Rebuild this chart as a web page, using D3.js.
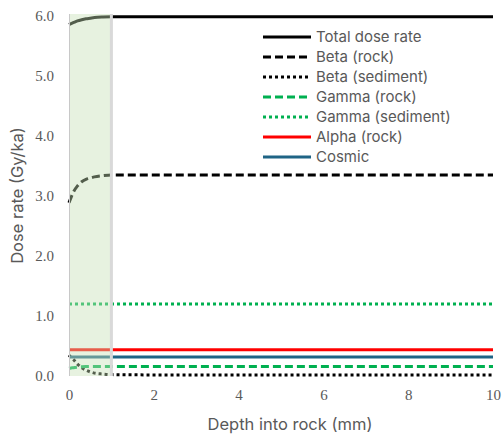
<!DOCTYPE html>
<html><head><meta charset="utf-8">
<script src="https://cdn.jsdelivr.net/npm/d3@7"></script>
<style>body{margin:0;background:#fff}svg{display:block}</style>
</head><body>
<svg id="c" width="502" height="440"></svg>
<script>
const depth     = [0, 0.05, 0.1, 0.2, 0.3, 0.4, 0.5, 0.6, 0.8, 1.0, 2, 4, 6, 8, 10];
const total     = [5.85, 5.865, 5.88, 5.91, 5.93, 5.945, 5.955, 5.965, 5.975, 5.98, 5.98, 5.98, 5.98, 5.98, 5.98];
const betaRock  = [2.88, 2.97, 3.05, 3.16, 3.23, 3.27, 3.29, 3.31, 3.33, 3.34, 3.34, 3.34, 3.34, 3.34, 3.34];
const betaSed   = [0.34, 0.30, 0.27, 0.19, 0.13, 0.09, 0.06, 0.04, 0.025, 0.015, 0.01, 0.01, 0.01, 0.01, 0.01];
const gammaRock = [0.12, 0.125, 0.13, 0.14, 0.145, 0.148, 0.15, 0.15, 0.15, 0.15, 0.15, 0.15, 0.15, 0.15, 0.15];
const gammaSed  = [1.19, 1.19, 1.19, 1.19, 1.19, 1.19, 1.19, 1.19, 1.19, 1.19, 1.19, 1.19, 1.19, 1.19, 1.19];
const alpha     = [0.43, 0.43, 0.43, 0.43, 0.43, 0.43, 0.43, 0.43, 0.43, 0.43, 0.43, 0.43, 0.43, 0.43, 0.43];
const cosmic    = [0.31, 0.31, 0.31, 0.31, 0.31, 0.31, 0.31, 0.31, 0.31, 0.31, 0.31, 0.31, 0.31, 0.31, 0.31];
const seriesNames = ["Total dose rate", "Beta (rock)", "Beta (sediment)", "Gamma (rock)", "Gamma (sediment)", "Alpha (rock)", "Cosmic"];
const xTicks = [0, 2, 4, 6, 8, 10];
const yTicks = [0, 1, 2, 3, 4, 5, 6];
const shadeRange = [0, 1];

const seriesValues = [total, betaRock, betaSed, gammaRock, gammaSed, alpha, cosmic];
const colors = ["#000000", "#000000", "#000000", "#00b050", "#00b050", "#ff0000", "#1f6485"];
const dashes = [null, "8,4", "3,3", "8,4", "3,3", null, null];

const svg = d3.select("#c");
const x = d3.scaleLinear().domain([0, 10]).range([69, 493]);
const y = d3.scaleLinear().domain([0, 6]).range([375.5, 15.5]);

const serif = "'Liberation Serif', 'Times New Roman', Times, serif";
const sans = "Inter, 'Liberation Sans', Arial, sans-serif";
const grey = "#595959";

// lines
const line = d3.line().x((d, i) => x(depth[i])).y(d => y(d)).curve(d3.curveMonotoneX);
seriesValues.forEach((vals, k) => {
  svg.append("path").datum(vals)
    .attr("d", line)
    .attr("fill", "none")
    .attr("stroke", colors[k])
    .attr("stroke-width", 3)
    .attr("stroke-dasharray", dashes[k]);
});

// shaded region
svg.append("rect")
  .attr("x", x(shadeRange[0])).attr("y", y(6) - 1.5)
  .attr("width", x(shadeRange[1]) - x(shadeRange[0]))
  .attr("height", y(0) - y(6) + 2)
  .attr("fill", "#c5e0b4").attr("fill-opacity", 0.42);
svg.append("line")
  .attr("x1", x(shadeRange[0]) + 0.5).attr("x2", x(shadeRange[0]) + 0.5)
  .attr("y1", y(6) - 1.5).attr("y2", y(0) + 0.5)
  .attr("stroke", "#c8c8c8").attr("stroke-width", 1);
svg.append("line")
  .attr("x1", x(shadeRange[1])).attr("x2", x(shadeRange[1]))
  .attr("y1", y(6) - 1.5).attr("y2", y(0) + 0.5)
  .attr("stroke", "#d9d9d9").attr("stroke-width", 3);

// axes (labels only)
const xAxis = svg.append("g").attr("transform", `translate(0,${y(0)})`)
  .call(d3.axisBottom(x).tickValues(xTicks).tickSize(0).tickPadding(14).tickFormat(d3.format("d")));
xAxis.select(".domain").remove();
xAxis.attr("font-family", null);
xAxis.selectAll("text").style("font-family", serif).style("font-size", "15px").attr("fill", grey);

const yAxis = svg.append("g").attr("transform", `translate(${x(0)},0)`)
  .call(d3.axisLeft(y).tickValues(yTicks).tickSize(0).tickPadding(15).tickFormat(d3.format(".1f")));
yAxis.select(".domain").remove();
yAxis.attr("font-family", null);
yAxis.selectAll("text").style("font-family", serif).style("font-size", "15px").attr("fill", grey);

// axis titles
svg.append("text").attr("x", 290).attr("y", 430).attr("text-anchor", "middle")
  .style("font-family", sans).style("font-size", "16.5px").attr("fill", grey)
  .text("Depth into rock (mm)");
svg.append("text").attr("transform", `translate(23,${(y(0) + y(6)) / 2}) rotate(-90)`)
  .attr("text-anchor", "middle")
  .style("font-family", sans).style("font-size", "16.5px").attr("fill", grey)
  .text("Dose rate (Gy/ka)");

// legend
const lg = svg.append("g");
seriesNames.forEach((name, k) => {
  const ly = 37 + k * 20;
  lg.append("line").attr("x1", 263).attr("x2", 311).attr("y1", ly).attr("y2", ly)
    .attr("stroke", colors[k]).attr("stroke-width", 3).attr("stroke-dasharray", dashes[k]);
  lg.append("text").attr("x", 316).attr("y", ly).attr("dy", "0.35em")
    .style("font-family", sans).style("font-size", "15px").attr("fill", grey)
    .text(name);
});
</script>
</body></html>
